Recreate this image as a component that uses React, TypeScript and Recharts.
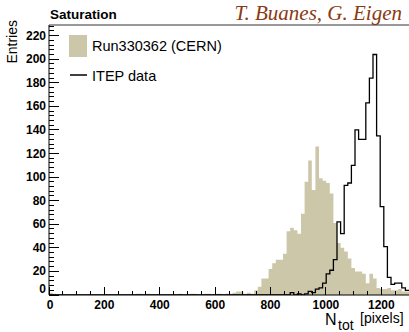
import React from 'react';
import { Area, ComposedChart, Legend, Line, ReferenceLine, XAxis, YAxis } from 'recharts';

// 100 bins of 13 pixels each, 0..1300
const BIN_WIDTH = 13;
const NBINS = 100;

// Run330362 (CERN), counts per bin
const cernCounts = [
  2, 1, 0, 0, 0, 0, 0, 0, 0, 0,
  0, 0, 0, 0, 0, 0, 0, 0, 0, 0,
  0, 0, 0, 0, 1, 1, 0, 1, 0, 0,
  0, 0, 0, 0, 0, 0, 1, 0, 0, 1,
  1, 0, 0, 1, 1, 0, 1, 1, 0, 1,
  1, 2, 3, 3, 1, 2, 1, 4, 7, 14,
  14, 22, 27, 30, 30, 35, 54, 57, 55, 52,
  69, 96, 114, 89, 126, 99, 97, 95, 86, 61,
  44, 40, 37, 31, 23, 20, 20, 18, 10, 18,
  14, 6, 5, 5, 6, 4, 4, 5, 3, 3,
];

// ITEP data, counts per bin
const itepCounts = [
  0, 0, 0, 0, 0, 0, 0, 0, 0, 0,
  0, 0, 0, 0, 0, 0, 0, 0, 0, 0,
  0, 0, 0, 0, 0, 0, 0, 0, 0, 0,
  0, 0, 0, 0, 0, 0, 0, 0, 0, 0,
  0, 0, 0, 0, 0, 0, 0, 0, 0, 0,
  0, 0, 0, 0, 0, 0, 0, 0, 0, 0,
  0, 0, 0, 0, 0, 0, 0, 2, 0, 1,
  0, 1, 3, 2, 5, 6, 10, 18, 21, 30,
  62, 52, 93, 95, 110, 140, 132, 132, 163, 184,
  204, 135, 75, 41, 15, 9, 10, 10, 6, 4,
];

const xLabels = [0, 200, 400, 600, 800, 1000, 1200];
const yLabels = [0, 20, 40, 60, 80, 100, 120, 140, 160, 180, 200, 220];
const xTicks = Array.from({ length: 27 }, (_, i) => i * 50);
const yTicks = Array.from({ length: 58 }, (_, i) => i * 4);

const TAN = '#cdc7a9';
const FONT = '"Liberation Sans", Arial, Helvetica, sans-serif';

const data = [
  ...cernCounts.map((c, i) => ({ x: i * BIN_WIDTH, cern: c, itep: itepCounts[i] })),
  { x: NBINS * BIN_WIDTH, cern: cernCounts[NBINS - 1], itep: itepCounts[NBINS - 1] },
];

const YTick = ({ x, y, payload }: any) => {
  const v = payload.value;
  const major = yLabels.includes(v);
  return (
    <g>
      <line x1={x} x2={x + (major ? 10 : 5)} y1={y} y2={y} stroke="#000" shapeRendering="crispEdges" />
      {major && (
        <text x={x - 3} y={v === 0 ? y - 2 : y + 4} textAnchor="end" fontFamily={FONT} fontWeight="bold" fontSize={12} fill="#000">
          {v}
        </text>
      )}
    </g>
  );
};

const XTick = ({ x, y, payload }: any) => {
  const v = payload.value;
  const major = xLabels.includes(v);
  return (
    <g>
      <line x1={x} x2={x} y1={y} y2={y - (major ? 8 : 4)} stroke="#000" shapeRendering="crispEdges" />
      {major && (
        <text x={v === 0 ? x + 1 : x} y={y + 14} textAnchor="middle" fontFamily={FONT} fontWeight="bold" fontSize={12} fill="#000">
          {v}
        </text>
      )}
    </g>
  );
};

const LegendBox = () => (
  <svg width={200} height={55} style={{ display: 'block' }}>
    <rect x={1} y={0} width={18} height={22} fill={TAN} />
    <text x={24} y={16} fontFamily={FONT} fontSize={14.5} fill="#000">Run330362 (CERN)</text>
    <line x1={2} x2={19} y1={40} y2={40} stroke="#000" strokeWidth={1.5} />
    <text x={24} y={46} fontFamily={FONT} fontSize={14.5} fill="#000">ITEP data</text>
  </svg>
);

export default function App() {
  return (
    <div style={{ position: 'absolute', left: 0, top: 0, width: 409, height: 332, background: '#fff' }}>
      <ComposedChart width={409} height={332} data={data} margin={{ top: 25, right: 0, left: 0, bottom: 0 }}>
        <XAxis
          dataKey="x"
          type="number"
          domain={[0, 1300]}
          ticks={xTicks}
          interval={0}
          height={37}
          tickSize={0}
          tickMargin={0}
          tick={<XTick />}
          axisLine={{ stroke: '#000' }}
        />
        <YAxis
          type="number"
          domain={[0, 229]}
          ticks={yTicks}
          interval={0}
          width={49}
          tickSize={0}
          tickMargin={0}
          allowDataOverflow
          tick={<YTick />}
          axisLine={{ stroke: '#000' }}
        />
        <ReferenceLine y={229} stroke="#333" />
        <Area
          dataKey="cern"
          type="stepAfter"
          fill={TAN}
          fillOpacity={1}
          stroke="none"
          isAnimationActive={false}
        />
        <Line
          dataKey="itep"
          type="stepAfter"
          stroke="#000"
          strokeWidth={1.3}
          dot={false}
          isAnimationActive={false}
        />
        <Legend
          layout="vertical"
          align="center"
          verticalAlign="middle"
          content={() => <LegendBox />}
          wrapperStyle={{ left: 68, top: 35, width: 200 }}
        />
      </ComposedChart>
      <svg width={409} height={332} style={{ position: 'absolute', left: 0, top: 0, pointerEvents: 'none' }}>
        <text x={50} y={19} fontFamily={FONT} fontWeight="bold" fontSize={13.5} fill="#000">Saturation</text>
        <text x={402} y={20} textAnchor="end" fontFamily='"Liberation Serif", "Times New Roman", serif' fontStyle="italic" fontSize={21} fill="#8a3a12">
          T. Buanes, G. Eigen
        </text>
        <text transform="translate(17, 20) rotate(-90)" textAnchor="end" fontFamily={FONT} fontSize={14} fill="#000">Entries</text>
        <text x={325} y={325} fontFamily={FONT} fontSize={16} fill="#000">N</text>
        <text x={338} y={330} fontFamily={FONT} fontSize={14} fill="#000">tot</text>
        <text x={360} y={323} fontFamily={FONT} fontSize={14} fill="#000">[pixels]</text>
      </svg>
    </div>
  );
}
